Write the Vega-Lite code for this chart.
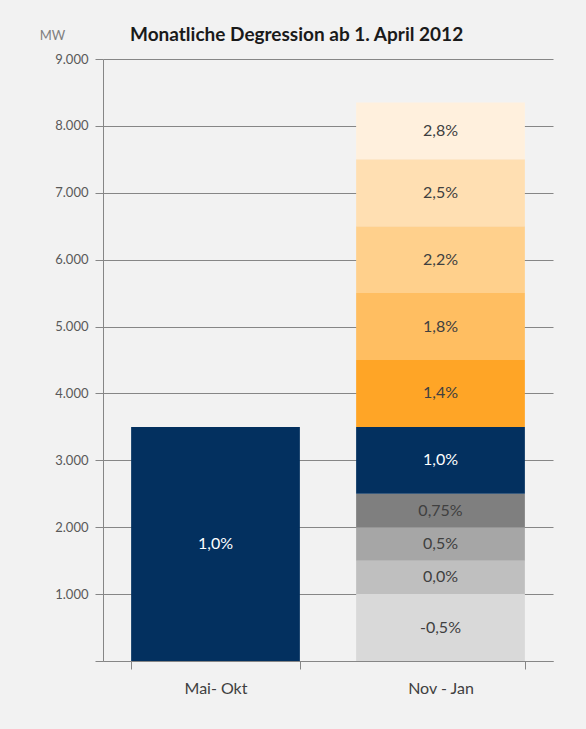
{
  "$schema": "https://vega.github.io/schema/vega-lite/v6.json",
  "autosize": "none",
  "width": 450,
  "height": 602,
  "padding": {"left": 103, "top": 59, "right": 33, "bottom": 68},
  "background": "#f2f2f2",
  "title": {
    "text": "Monatliche Degression ab 1. April 2012",
    "anchor": "start",
    "frame": "group",
    "dx": 27,
    "offset": -16,
    "font": "Lato",
    "fontSize": 19,
    "fontWeight": "bold",
    "color": "#1a1a1a"
  },
  "config": {
    "view": {"stroke": null},
    "font": "Lato"
  },
  "data": {
    "values": [
      {"cat": "Mai- Okt", "lo": 0, "hi": 3500, "label": "1,0%"},
      {"cat": "Nov - Jan", "lo": 0, "hi": 1000, "label": "-0,5%"},
      {"cat": "Nov - Jan", "lo": 1000, "hi": 1500, "label": "0,0%"},
      {"cat": "Nov - Jan", "lo": 1500, "hi": 2000, "label": "0,5%"},
      {"cat": "Nov - Jan", "lo": 2000, "hi": 2500, "label": "0,75%"},
      {"cat": "Nov - Jan", "lo": 2500, "hi": 3500, "label": "1,0%"},
      {"cat": "Nov - Jan", "lo": 3500, "hi": 4500, "label": "1,4%"},
      {"cat": "Nov - Jan", "lo": 4500, "hi": 5500, "label": "1,8%"},
      {"cat": "Nov - Jan", "lo": 5500, "hi": 6500, "label": "2,2%"},
      {"cat": "Nov - Jan", "lo": 6500, "hi": 7500, "label": "2,5%"},
      {"cat": "Nov - Jan", "lo": 7500, "hi": 8350, "label": "2,8%"}
    ]
  },
  "transform": [{"calculate": "(datum.lo + datum.hi) / 2", "as": "mid"}],
  "encoding": {
    "x": {
      "field": "cat",
      "type": "nominal",
      "sort": ["Mai- Okt", "Nov - Jan"],
      "scale": {"paddingInner": 0.25, "paddingOuter": 0.125},
      "axis": {
        "title": null,
        "labelAngle": 0,
        "tickBand": "extent",
        "tickSize": 8,
        "tickColor": "#868686",
        "domainColor": "#868686",
        "labelPadding": 11,
        "labelFontSize": 16,
        "labelColor": "#404040",
        "labelFont": "Lato"
      }
    }
  },
  "layer": [
    {
      "mark": {"type": "bar"},
      "encoding": {
        "y": {
          "field": "lo",
          "type": "quantitative",
          "scale": {"domain": [0, 9000], "nice": false},
          "axis": {
            "title": "MW",
            "titleAngle": 0,
            "titleX": -51,
            "titleY": -24,
            "titleAlign": "center",
            "titleBaseline": "middle",
            "titleFontSize": 13,
            "titleFontWeight": "normal",
            "titleColor": "#7f7f7f",
            "titleFont": "Lato",
            "values": [0, 500, 1000, 1500, 2000, 2500, 3000, 3500, 4000, 4500, 5000, 5500, 6000, 6500, 7000, 7500, 8000, 8500, 9000],
            "labelExpr": "datum.value % 1000 == 0 && datum.value > 0 ? replace(format(datum.value, ','), ',', '.') : ''",
            "labelFontSize": 13,
            "labelColor": "#595959",
            "labelFont": "Lato",
            "labelPadding": 7,
            "grid": true,
            "gridColor": "#868686",
            "gridOpacity": {"condition": {"test": "datum.value % 1000 != 0", "value": 0}, "value": 1},
            "tickColor": "#868686",
            "tickSize": {"condition": {"test": "datum.value % 1000 != 0", "value": 4}, "value": 8},
            "domainColor": "#868686"
          }
        },
        "y2": {"field": "hi"},
        "color": {
          "field": "label",
          "type": "nominal",
          "legend": null,
          "scale": {
            "domain": ["-0,5%", "0,0%", "0,5%", "0,75%", "1,0%", "1,4%", "1,8%", "2,2%", "2,5%", "2,8%"],
            "range": ["#d9d9d9", "#bfbfbf", "#a6a6a6", "#7f7f7f", "#03305f", "#ffa526", "#ffbe61", "#ffd08c", "#ffdfb2", "#fff0dd"]
          }
        }
      }
    },
    {
      "mark": {"type": "text", "fontSize": 16, "font": "Lato", "baseline": "middle"},
      "encoding": {
        "y": {"field": "mid", "type": "quantitative"},
        "text": {"field": "label"},
        "color": {
          "condition": {"test": "datum.label == '1,0%'", "value": "white"},
          "value": "#404040"
        }
      }
    }
  ]
}
